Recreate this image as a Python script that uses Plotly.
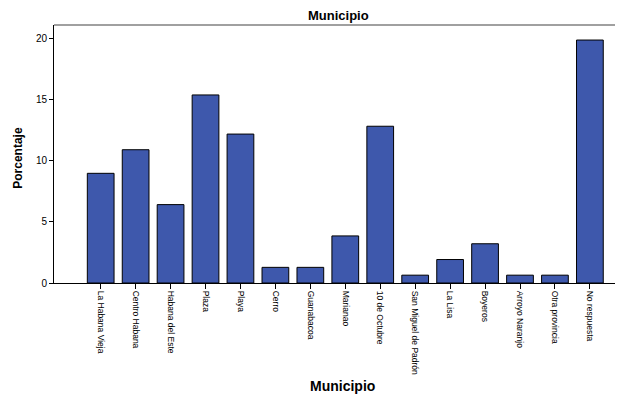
import plotly.graph_objects as go

categories = ["La Habana Vieja", "Centro Habana", "Habana del Este", "Plaza", "Playa",
              "Cerro", "Guanabacoa", "Marianao", "10 de Octubre", "San Miguel de Padrón",
              "La Lisa", "Boyeros", "Arroyo Naranjo", "Otra provincia", "No respuesta"]
percentages = [8.97, 10.90, 6.41, 15.38, 12.18, 1.28, 1.28, 3.85, 12.82, 0.64,
               1.92, 3.21, 0.64, 0.64, 19.87]
y_ticks = [0, 5, 10, 15, 20]

# page has an 8px body margin; figure is offset by it
OFF = 8
W, H = 623 - OFF, 400 - OFF
L, R, T = 54 - OFF, 0, 25 - OFF
BOTTOM = 283.5 - OFF
B = H - BOTTOM
ph = BOTTOM - T
pw = W - L - R

fig = go.Figure()
fig.add_trace(go.Bar(
    x=categories, y=percentages, width=0.765,
    marker=dict(color="#3e58ac", line=dict(color="#000000", width=1)),
))

fig.update_layout(
    width=W, height=H,
    margin=dict(l=L, r=R, t=T, b=B, pad=0, autoexpand=False),
    plot_bgcolor="white", paper_bgcolor="white",
    showlegend=False,
    font=dict(family="Liberation Sans, Arial, sans-serif", color="#000000"),
    xaxis=dict(
        type="category", range=[-1.336, 15.18 - OFF / 34.43], automargin=False,
        showline=True, linecolor="#000000", linewidth=1,
        ticks="outside", ticklen=5, tickcolor="#000000", tickwidth=1,
        tickangle=90,
        tickfont=dict(family="Liberation Sans, Arial, sans-serif", size=8.5, color="#000000"),
        showgrid=False, zeroline=False,
    ),
    yaxis=dict(
        range=[0, 21.1], tickvals=y_ticks, automargin=False,
        showline=True, linecolor="#000000", linewidth=1,
        ticks="outside", ticklen=4, tickcolor="#000000", tickwidth=1,
        tickfont=dict(family="Liberation Sans, Arial, sans-serif", size=10, color="#000000"),
        showgrid=False, zeroline=False,
    ),
    shapes=[dict(type="line", xref="paper", yref="paper", x0=0, x1=1, y0=1, y1=1,
                 line=dict(color="#808080", width=1.5))],
    annotations=[
        dict(text="<b>Municipio</b>", xref="paper", yref="paper", x=(338 - 54) / (623 - 54), y=1 + 10 / ph,
             xanchor="center", yanchor="middle", showarrow=False,
             font=dict(size=13, family="Liberation Sans, Arial, sans-serif")),
        dict(text="<b>Municipio</b>", xref="paper", yref="paper", x=(342 - 54) / (623 - 54), y=-(387 - 283.5) / ph,
             xanchor="center", yanchor="middle", showarrow=False,
             font=dict(size=14, family="Liberation Sans, Arial, sans-serif")),
        dict(text="<b>Porcentaje</b>", xref="paper", yref="paper", x=(18 - 54) / pw, y=(283.5 - 158) / ph,
             xanchor="center", yanchor="middle", showarrow=False, textangle=-90,
             font=dict(size=12, family="Liberation Sans, Arial, sans-serif")),
    ],
)

fig.write_html("out.html")
